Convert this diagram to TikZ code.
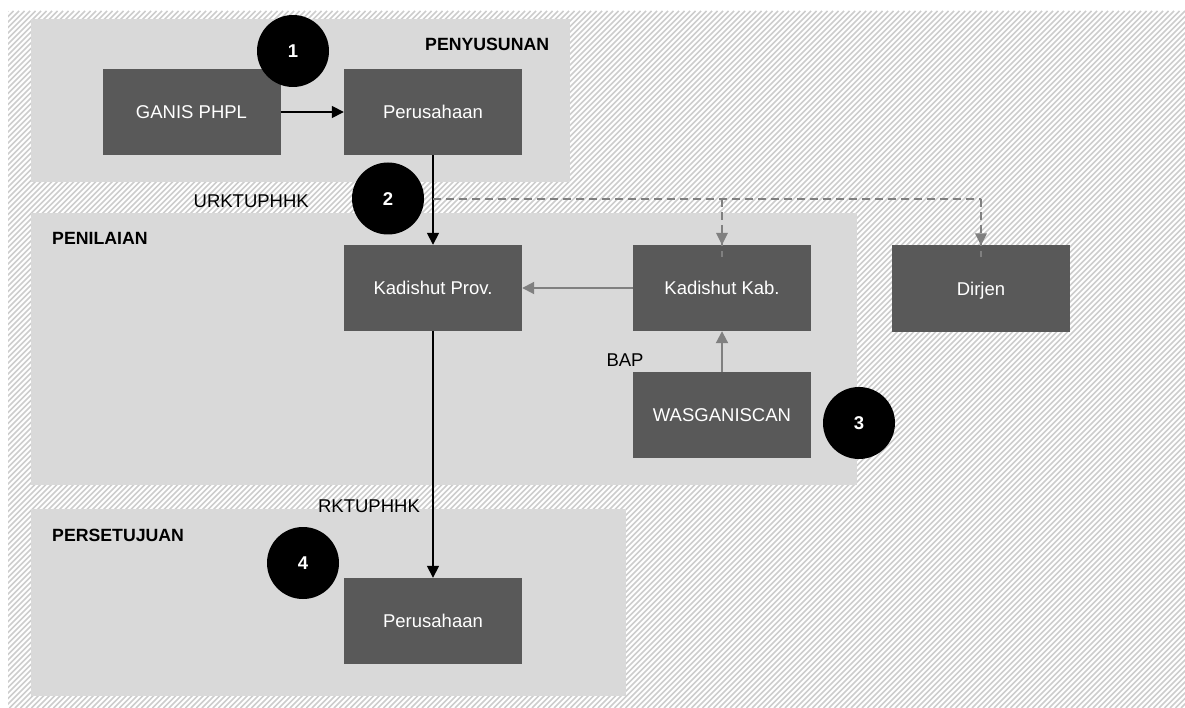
\documentclass[tikz,border=0pt]{standalone}
\usepackage{fontspec}
\setmainfont{Liberation Sans}
\usetikzlibrary{arrows.meta}
\definecolor{panel}{HTML}{D9D9D9}
\definecolor{boxfill}{HTML}{595959}
\definecolor{hatch}{HTML}{CDCDCD}
\definecolor{linkgray}{HTML}{808080}

\begin{document}
\begin{tikzpicture}[x=1pt,y=-1pt,
  actor/.style={fill=boxfill, text=white, minimum width=178pt, minimum height=86pt,
    inner sep=0pt, text height=13.3pt, text depth=0pt, font=\fontsize{18.5}{22}\selectfont},
  badge/.style={circle, fill=black, text=white, minimum size=72pt, inner sep=0pt,
    text height=13.3pt, text depth=0pt, font=\bfseries\fontsize{18.5}{22}\selectfont},
  stagetitle/.style={font=\bfseries\fontsize{17.7}{21}\selectfont, anchor=west, inner sep=0pt,
    text height=12.7pt, text depth=0pt},
  flowlabel/.style={font=\fontsize{18.5}{22}\selectfont, inner sep=0pt,
    text height=13.3pt, text depth=0pt},
  mainflow/.style={draw=black, line width=1.6pt, -{Triangle[width=12pt,length=12pt]}},
  sideflow/.style={draw=linkgray, line width=2pt, -{Triangle[width=12pt,length=12pt]}},
  copyflow/.style={draw=linkgray, line width=1.8pt, dash pattern=on 8pt off 5pt}
]
\useasboundingbox (0,0) rectangle (1185,708);

% hatched backdrop
\begin{scope}
  \clip (8,11) rectangle (1185,708);
  \foreach \i in {0,...,345}
    \draw[hatch, line width=1.7pt] ({-700+\i*5.5},708) -- ++(697,-697);
\end{scope}

% stage panels
\fill[panel] (31,19) rectangle (570,182);
\fill[panel] (31,213) rectangle (857,485);
\fill[panel] (31,509) rectangle (626,696);

\node[stagetitle] (tPenyusunan) at (425,44.5) {PENYUSUNAN};
\node[stagetitle] (tPenilaian) at (52,238) {PENILAIAN};
\node[stagetitle] (tPersetujuan) at (52,535) {PERSETUJUAN};

% actors
\node[actor] (ganis)  at (191.5,112) {GANIS PHPL};
\node[actor] (perusA) at (433,112)   {Perusahaan};
\node[actor] (prov)   at (433,288)   {Kadishut Prov.};
\node[actor] (kab)    at (722,288)   {Kadishut Kab.};
\node[actor] (dirjen) at (981,288.5) {Dirjen};
\node[actor] (wasg)   at (722,415)   {WASGANISCAN};
\node[actor] (perusB) at (433,621)   {Perusahaan};

% step badges
\node[badge] (c1) at (293,51)  {1};
\node[badge] (c2) at (388,198.5) {2};
\node[badge] (c3) at (859,423) {3};
\node[badge] (c4) at (303,563) {4};

% flow labels
\node[flowlabel, anchor=east] (lUrk) at (309,201) {URKTUPHHK};
\node[flowlabel] (lBap) at (625,360) {BAP};
\node[flowlabel] (lRkt) at (369,506) {RKTUPHHK};

% connectors
\draw[mainflow] (ganis) -- (perusA);
\draw[mainflow] (perusA) -- (prov);
\draw[mainflow] (prov) -- (perusB);
\draw[sideflow] (kab) -- (prov);
\draw[sideflow] (wasg) -- (kab);

\coordinate (split) at (433,199);
\coordinate (kabDrop) at (kab.north |- split);
\coordinate (dirDrop) at (dirjen.north |- split);
\draw[copyflow] (split) -- (dirDrop);
\draw[copyflow] (kabDrop) -- ([yshift=-12pt]kab.north);
\draw[copyflow] (dirDrop) -- ([yshift=-12pt]dirjen.north);
\fill[linkgray] (kab.north) -- ++(-6,-12) -- ++(12,0) -- cycle;
\fill[linkgray] (dirjen.north) -- ++(-6,-12) -- ++(12,0) -- cycle;
\end{tikzpicture}
\end{document}
